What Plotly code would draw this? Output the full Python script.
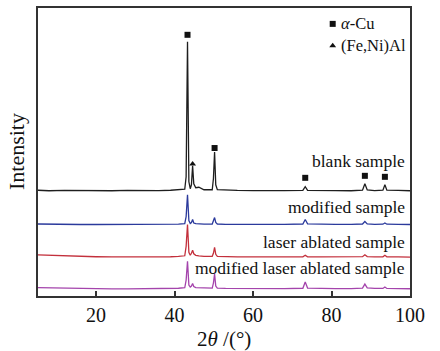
import plotly.graph_objects as go

two_theta = [5, 8, 12, 16, 20, 24, 28, 32, 36, 39, 41, 42.6, 42.95, 43.3, 43.65, 44.0, 44.3, 44.6, 44.9,
             45.4, 46.2, 47.5, 49.6, 49.9, 50.2, 50.5, 50.9, 53, 56, 60, 64, 68, 72.7, 73.3, 73.9, 77,
             81, 85, 87.9, 88.5, 89.1, 91, 93.1, 93.6, 94.1, 97, 100]

blank = [106.5, 106, 106.3, 106, 105.8, 106, 106.3, 106, 106.2, 106.5, 106.8, 107.5, 120, 256, 115, 108,
         112, 131, 113, 109, 109.5, 107, 107, 118, 145, 112, 107, 106.5, 106.3, 106.2, 106.5, 106.2,
         106.3, 110, 106.3, 106, 106.2, 106, 106.5, 113, 106.8, 106.2, 106.5, 112, 106.5, 106.3, 106]

modified = [72.5, 72.2, 72, 72, 72, 72, 72, 72, 72, 72.2, 72.4, 72.8, 80, 102, 76, 73, 74, 77, 73.5,
            72.8, 72.5, 72.3, 72.5, 75, 79, 74, 72.5, 72.2, 72.1, 72.1, 72.2, 72.1, 72.5, 77, 72.6, 72.2,
            72.1, 72.1, 72.5, 75, 72.6, 72.2, 72.3, 73.5, 72.3, 72.1, 72]

laser = [41.5, 41, 40.3, 39.8, 39.5, 39.3, 39.2, 39.2, 39.3, 39.5, 39.8, 40.5, 50, 72, 44, 41, 43, 46,
         42.5, 41, 40.5, 40, 40, 43, 49, 42, 40, 39.5, 39.4, 39.3, 39.3, 39.3, 39.4, 41, 39.4, 39.3,
         39.3, 39.3, 39.6, 41.5, 39.7, 39.4, 39.5, 41, 39.5, 39.3, 39.2]

mod_laser = [8.5, 8.2, 7.8, 7.5, 7.3, 7.2, 7.2, 7.2, 7.3, 7.5, 7.8, 8.3, 16, 35, 11, 9, 10, 12.5, 9.5,
             8.5, 8.3, 8, 8, 13, 22, 10, 8, 7.6, 7.5, 7.4, 7.6, 7.4, 7.8, 14, 8, 7.5, 7.4, 7.5, 8, 12,
             8.2, 7.6, 7.6, 9, 7.6, 7.4, 7.3]

series_names = ["blank sample", "modified sample", "laser ablated sample", "modified laser ablated sample"]
series_vals = [blank, modified, laser, mod_laser]
series_colors = ["#1e1e1e", "#2b3a9c", "#c3303c", "#a444ac"]
label_y = [136, 90, 54, 28]

cu_x = [43.3, 50.2, 73.3, 88.5, 93.6]
cu_y = [263, 149, 119, 121, 120]
feni_x = [44.6]
feni_y = [133]

legend_labels = ["<i>α</i>-Cu", "(Fe,Ni)Al"]
legend_y = [274, 252]

serif = "Liberation Serif"

fig = go.Figure()
for name, vals, col in zip(series_names, series_vals, series_colors):
    fig.add_trace(go.Scatter(x=two_theta, y=vals, mode="lines", name=name,
                             line=dict(color=col, width=1.3), showlegend=False))

fig.add_trace(go.Scatter(x=cu_x, y=cu_y, mode="markers",
                         marker=dict(symbol="square", size=6, color="#111"), showlegend=False))
fig.add_trace(go.Scatter(x=feni_x, y=feni_y, mode="markers",
                         marker=dict(symbol="triangle-up", size=6, color="#111"), showlegend=False))
fig.add_trace(go.Scatter(x=[80.3, 80.3], y=legend_y, mode="markers",
                         marker=dict(symbol=["square", "triangle-up"], size=6, color="#111"),
                         showlegend=False))

for lab, ly in zip(legend_labels, legend_y):
    fig.add_annotation(x=82.0, y=ly, text=lab, showarrow=False, xanchor="left", yanchor="middle",
                       font=dict(family=serif, size=16.5, color="#111"))

for name, ly in zip(series_names, label_y):
    fig.add_annotation(x=99.3, y=ly, text=name, showarrow=False, xanchor="right", yanchor="middle",
                       font=dict(family=serif, size=17.5, color="#111"))

fig.add_annotation(xref="paper", yref="paper", x=0.5, y=-0.1, text="2<i>θ</i> /(°)",
                   showarrow=False, xanchor="center", yanchor="top",
                   font=dict(family=serif, size=21, color="#111"))
fig.add_annotation(xref="paper", yref="paper", x=-0.02, y=0.5, text="Intensity", textangle=-90,
                   showarrow=False, xanchor="right", yanchor="middle",
                   font=dict(family=serif, size=22, color="#111"))

fig.update_layout(
    width=440, height=351,
    font=dict(family=serif, color="#111"),
    margin=dict(l=38, r=30, t=6, b=55),
    paper_bgcolor="white", plot_bgcolor="white",
    xaxis=dict(range=[5.2, 100], tickvals=[20, 40, 60, 80, 100], ticks="inside", ticklen=5,
               tickwidth=1.5, tickcolor="#333", showgrid=False, zeroline=False,
               showline=True, linewidth=2, linecolor="#333", mirror=True,
               tickfont=dict(family=serif, size=20, color="#111")),
    yaxis=dict(range=[0, 290], showticklabels=False, ticks="", showgrid=False, zeroline=False,
               showline=True, linewidth=2, linecolor="#333", mirror=True),
)

fig.write_html("out.html")
